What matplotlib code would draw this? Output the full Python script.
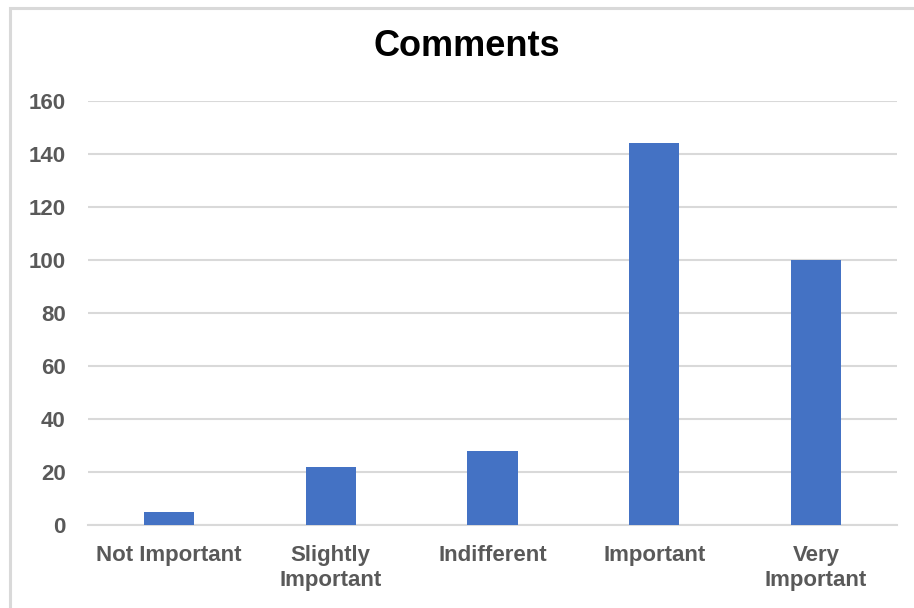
import matplotlib.pyplot as plt
from matplotlib.patches import Rectangle

categories = ['Not Important', 'Slightly\nImportant', 'Indifferent', 'Important', 'Very\nImportant']
counts = [5, 22, 28, 144, 100]
yticks = [0, 20, 40, 60, 80, 100, 120, 140, 160]

plt.rcParams['font.family'] = ['Liberation Sans', 'DejaVu Sans']

fig = plt.figure(figsize=(9.14, 6.08), dpi=100)

# light grey chart frame, open to the right and bottom
fig.patches.append(Rectangle((10 / 914, -0.1), 1.2, 1 - 8 / 608 + 0.1,
                             transform=fig.transFigure, fill=False,
                             edgecolor='#d9d9d9', lw=2.2))

ax = fig.add_axes([88 / 914, 1 - 525.3 / 608, 809 / 914, 424.3 / 608])
x = range(len(categories))
ax.bar(x, counts, width=0.31, color='#4472c4', zorder=3)

ax.set_xlim(-0.5, len(categories) - 0.5)
ax.set_ylim(0, 160)
ax.set_yticks(yticks)
ax.set_xticks(list(x))
ax.set_xticklabels(categories, linespacing=1.25)
for lab in ax.get_xticklabels() + ax.get_yticklabels():
    lab.set_fontsize(16)
    lab.set_fontweight('bold')
    lab.set_color('#595959')

ax.grid(axis='y', color='#d9d9d9', lw=1.5, zorder=0)
ax.tick_params(length=0)
ax.tick_params(axis='y', pad=16)
ax.tick_params(axis='x', pad=14)
for s in ['top', 'right', 'left']:
    ax.spines[s].set_visible(False)
ax.spines['bottom'].set_color('#d9d9d9')
ax.spines['bottom'].set_linewidth(1.5)

fig.text(467 / 914, 1 - 46 / 608, 'Comments', ha='center', va='center',
         fontsize=26, fontweight='bold', color='black')

fig.savefig('out.png', dpi=100)
